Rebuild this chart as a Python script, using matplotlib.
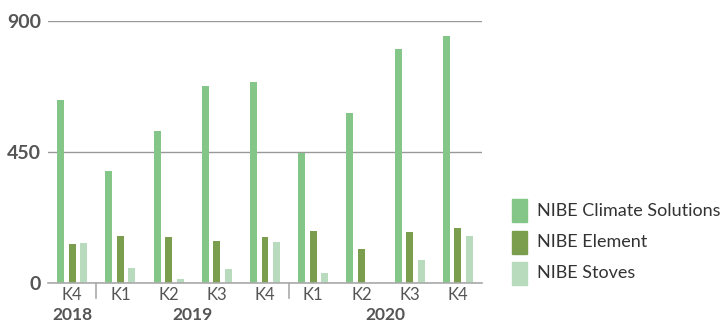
import matplotlib
matplotlib.use("Agg")
import matplotlib.pyplot as plt
from matplotlib.patches import Rectangle
import numpy as np

plt.rcParams['font.family'] = ['Lato', 'DejaVu Sans']

quarters = ["K4", "K1", "K2", "K3", "K4", "K1", "K2", "K3", "K4"]
years = ["2018", "2019", "2020"]
year_spans = [(0, 0), (1, 4), (5, 8)]
series_names = ["NIBE Climate Solutions", "NIBE Element", "NIBE Stoves"]
climate = [627, 384, 521, 676, 688, 447, 582, 804, 846]
element = [133, 160, 158, 144, 157, 179, 117, 173, 189]
stoves = [137, 50, 14, 46, 141, 32, 0, 78, 159]
colors = ["#83c687", "#7a9e4e", "#b8dbbd"]
yticks = [0, 450, 900]

fig = plt.figure(figsize=(7.24, 3.22), dpi=100)
ax = fig.add_axes([48 / 724, 39.3 / 322, 434 / 724, 262 / 322])

x = np.arange(len(quarters))
width = 0.145
offset = 0.238
for i, (vals, col) in enumerate(zip([climate, element, stoves], colors)):
    ax.bar(x + (i - 1) * offset, vals, width, color=col, zorder=3)

ax.set_xlim(-0.5, len(quarters) - 0.5)
ax.set_ylim(0, 900)
ax.set_yticks(yticks)
ax.set_yticklabels([str(v) for v in yticks], fontsize=14, fontweight='bold', color='#555555')
ax.yaxis.grid(True, color='#999999', linewidth=1.0, zorder=0)
ax.tick_params(axis='y', length=0, pad=5)
ax.tick_params(axis='x', length=0, pad=3)
for s in ax.spines.values():
    s.set_visible(False)
ax.axhline(0, color='#aaaaaa', linewidth=1.2, zorder=4, clip_on=False)

ax.set_xticks(x)
ax.set_xticklabels(quarters, fontsize=12, color='#555555')

# year labels and dividers below the axis
trans = ax.get_xaxis_transform()
for yr, (a, b) in zip(years, year_spans):
    ax.text((a + b) / 2, -(320.5 - 282.7) / 262, yr, transform=trans, ha='center',
            va='baseline', fontsize=12.5, fontweight='bold', color='#555555')
for a, b in year_spans[1:]:
    ax.plot([a - 0.5, a - 0.5], [0, -0.06], transform=trans, color='#aaaaaa',
            linewidth=1.2, clip_on=False)

# legend drawn as rectangles with labels
for i, (name, col) in enumerate(zip(series_names, colors)):
    yc = 1 - (210.5 + i * 31.5) / 322
    fig.patches.append(Rectangle((512 / 724, yc - 11.5 / 322), 15 / 724, 23 / 322,
                                 transform=fig.transFigure, color=col, figure=fig))
    fig.text(537 / 724, yc, name, ha='left', va='center', fontsize=13, color='#333333')

fig.savefig("out.png", dpi=100)
